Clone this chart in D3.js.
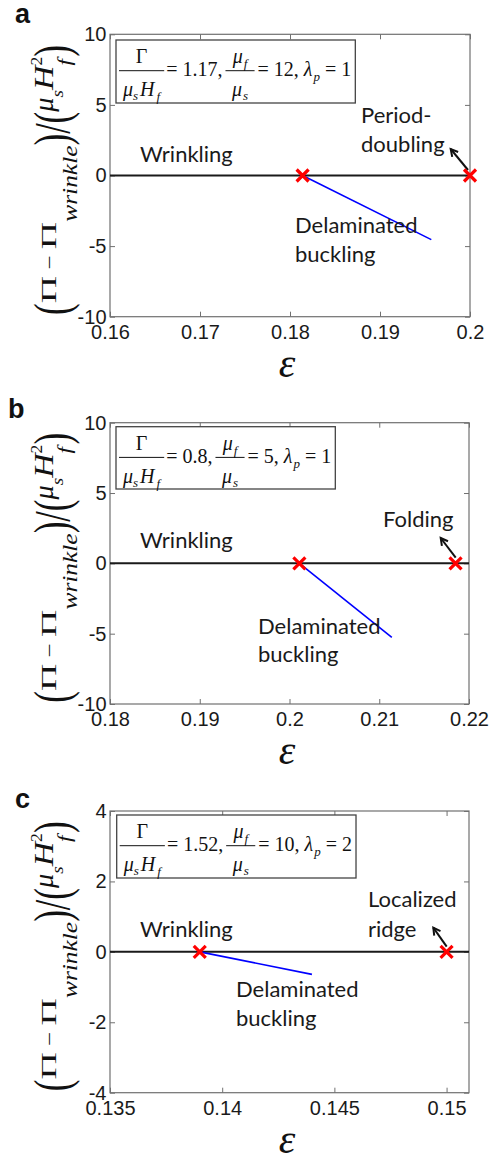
<!DOCTYPE html>
<html>
<head>
<meta charset="utf-8">
<script src="https://cdn.jsdelivr.net/npm/d3@7"></script>
<style>
  html, body { margin: 0; padding: 0; background: #fff; }
  svg { display: block; }
  text { white-space: pre; }
</style>
</head>
<body>
<svg id="chart" width="494" height="1161"></svg>
<script>
// ---------------- DATA ----------------
// Panel a
const xDomainA = [0.16, 0.20];
const yDomainA = [-10, 10];
const xTicksA = [0.16, 0.17, 0.18, 0.19, 0.2];
const yTicksA = [-10, -5, 0, 5, 10];
const transitionsA = [0.1814, 0.2];
const delaminatedA = [[0.1814, 0], [0.1957, -4.54]];
const paramsA = { gamma: "1.17", mu: "12", lam: "1" };

// Panel b
const xDomainB = [0.18, 0.22];
const yDomainB = [-10, 10];
const xTicksB = [0.18, 0.19, 0.2, 0.21, 0.22];
const yTicksB = [-10, -5, 0, 5, 10];
const transitionsB = [0.2011, 0.2185];
const delaminatedB = [[0.2011, 0], [0.2114, -5.26]];
const paramsB = { gamma: "0.8", mu: "5", lam: "1" };

// Panel c
const xDomainC = [0.135, 0.151];
const yDomainC = [-4, 4];
const xTicksC = [0.135, 0.14, 0.145, 0.15];
const yTicksC = [-4, -2, 0, 2, 4];
const transitionsC = [0.139, 0.150];
const delaminatedC = [[0.139, 0], [0.1440, -0.64]];
const paramsC = { gamma: "1.52", mu: "10", lam: "2" };

// ---------------- LAYOUT ----------------
const panels = [
  { letter: "a", lx: 15, ly: 23.3,
    left: 110, top: 34.3, width: 360, height: 282.4,
    xDomain: xDomainA, yDomain: yDomainA, xTicks: xTicksA, yTicks: yTicksA,
    trans: transitionsA, delam: delaminatedA, params: paramsA,
    legend: [6, 5.7, 63],
    labels: [["Wrinkling", 30, 127.4], ["Period-", 251, 89], ["doubling", 251, 117.4],
             ["Delaminated", 185, 199], ["buckling", 185, 227.4]],
    arrow: [358, 135.7, 340.7, 114.7] },
  { letter: "b", lx: 8, ly: 417.7,
    left: 110, top: 422.7, width: 359, height: 281.3,
    xDomain: xDomainB, yDomain: yDomainB, xTicks: xTicksB, yTicks: yTicksB,
    trans: transitionsB, delam: delaminatedB, params: paramsB,
    legend: [6, 4, 62.3],
    labels: [["Wrinkling", 30, 125.6], ["Folding", 273, 104],
             ["Delaminated", 148, 211], ["buckling", 148, 239]],
    arrow: [345.7, 135, 330.7, 115.3] },
  { letter: "c", lx: 15, ly: 807.7,
    left: 110, top: 811, width: 359, height: 281.7,
    xDomain: xDomainC, yDomain: yDomainC, xTicks: xTicksC, yTicks: yTicksC,
    trans: transitionsC, delam: delaminatedC, params: paramsC,
    legend: [6.7, 4, 63],
    labels: [["Wrinkling", 30, 125.7], ["Localized", 258, 96], ["ridge", 258, 125.7],
             ["Delaminated", 126, 185.7], ["buckling", 126, 215]],
    arrow: [336.7, 135.7, 323.3, 116.7] }
];

const svg = d3.select("#chart");
const SERIF = '"Liberation Serif", "Times New Roman", serif';
const SANS = '"Liberation Sans", Arial, sans-serif';
const LABEL = 'Lato, "Open Sans", sans-serif';
const FRAME = "#707070";

function mathParams(g, bx, by, h, vals) {
  const fs = 20, sfs = 13;
  const box = g.append("rect").attr("x", bx).attr("y", by).attr("height", h)
    .attr("fill", "#fff").attr("stroke", "#444").attr("stroke-width", 1.3);
  const tg = g.append("g").attr("font-family", SERIF).attr("fill", "#111").attr("font-size", fs);
  const lineY = by + 30.7, numY = by + 23.3, denY = by + 56, mainY = by + 36;
  let cx = bx + 3;

  // fraction 1: Gamma / (mu_s H_f)
  const n1 = tg.append("text").attr("y", numY).attr("text-anchor", "middle").text("Γ");
  const d1 = tg.append("text").attr("y", denY).attr("text-anchor", "middle");
  d1.append("tspan").attr("font-style", "italic").text("μ");
  d1.append("tspan").attr("font-style", "italic").attr("font-size", sfs).attr("dy", 4).text("s");
  d1.append("tspan").attr("font-style", "italic").attr("dy", -4).attr("dx", 2).text("H");
  d1.append("tspan").attr("font-style", "italic").attr("font-size", sfs).attr("dy", 5).attr("dx", 2).text("f");
  const w1 = d1.node().getComputedTextLength() + 12;
  n1.attr("x", cx + w1 / 2); d1.attr("x", cx + w1 / 2);
  tg.append("line").attr("x1", cx).attr("x2", cx + w1).attr("y1", lineY).attr("y2", lineY)
    .attr("stroke", "#111").attr("stroke-width", 1);
  cx += w1 + 2;

  const t1 = tg.append("text").attr("x", cx).attr("y", mainY).text("= " + vals.gamma + ",");
  cx += t1.node().getComputedTextLength() + 3;

  // fraction 2: mu_f / mu_s
  const n2 = tg.append("text").attr("y", numY).attr("text-anchor", "middle");
  n2.append("tspan").attr("font-style", "italic").text("μ");
  n2.append("tspan").attr("font-style", "italic").attr("font-size", sfs).attr("dy", 5).attr("dx", 1).text("f");
  const d2 = tg.append("text").attr("y", denY).attr("text-anchor", "middle");
  d2.append("tspan").attr("font-style", "italic").text("μ");
  d2.append("tspan").attr("font-style", "italic").attr("font-size", sfs).attr("dy", 4).attr("dx", 1).text("s");
  const w2 = Math.max(n2.node().getComputedTextLength(), d2.node().getComputedTextLength()) + 14;
  n2.attr("x", cx + w2 / 2); d2.attr("x", cx + w2 / 2);
  tg.append("line").attr("x1", cx).attr("x2", cx + w2).attr("y1", lineY).attr("y2", lineY)
    .attr("stroke", "#111").attr("stroke-width", 1);
  cx += w2 + 3;

  const t2 = tg.append("text").attr("x", cx).attr("y", mainY);
  t2.append("tspan").text("= " + vals.mu + ", ");
  t2.append("tspan").attr("font-style", "italic").text("λ");
  t2.append("tspan").attr("font-style", "italic").attr("font-size", sfs).attr("dy", 5).attr("dx", 1).text("p");
  t2.append("tspan").attr("dy", -5).text(" = " + vals.lam);
  cx += t2.node().getComputedTextLength() + 5;

  box.attr("width", cx - bx);
}

// Y-axis label laid out piece by piece along a rotated baseline
function yAxisLabel(g, baseX, centerY) {
  // text, fontSize, scale along, scale across, shift below baseline, italic, overlaps previous
  const P = (t, fs, sx, sy, sh, it, ov) => ({ t, fs, sx, sy, sh, it, ov });
  const paren = c => P(c, 44, 0.8, 1.15, 13, false);
  const pieces = [
    paren("("), P("Π", 20, 1.9, 1, 0, false), P("\u00A0−\u00A0", 20, 1.25, 1, 0, false),
    P("Π", 20, 1.9, 1, 0, false), P("wrinkle", 20, 1.27, 1, 21, true), paren(")"),
    P("/", 44, 0.85, 1.15, 13, false), paren("("),
    P("μ", 27, 1.05, 1, -3, true), P("s", 16, 1.2, 1, 7, true), P("H", 27, 1.25, 1, -3, true),
    P("f", 18, 1.3, 1, 15, true), P("2", 16, 1.1, 1, -14, false, true), paren(")")
  ];
  const rg = g.append("g");
  let cur = 0, lastStart = 0;
  pieces.forEach(p => {
    const start = p.ov ? lastStart : cur;
    const t = rg.append("text").attr("font-family", SERIF).attr("font-size", p.fs)
      .attr("fill", "#111").text(p.t);
    if (p.it) t.attr("font-style", "italic");
    const w = t.node().getComputedTextLength() * p.sx;
    t.attr("transform", `translate(${start},${p.sh}) scale(${p.sx},${p.sy})`);
    if (p.ov) { cur = Math.max(cur, start + w); }
    else { cur = start + w; lastStart = start; }
  });
  rg.attr("transform", `translate(${baseX},${centerY}) rotate(-90) translate(${-cur / 2},0)`);
}

panels.forEach(p => {
  const g = svg.append("g");
  const x = d3.scaleLinear().domain(p.xDomain).range([p.left, p.left + p.width]);
  const y = d3.scaleLinear().domain(p.yDomain).range([p.top + p.height, p.top]);
  const bottom = p.top + p.height, right = p.left + p.width;

  // axes (MATLAB style, inward ticks on all sides)
  const styleAxis = sel => {
    sel.select(".domain").remove();
    sel.selectAll(".tick line").attr("stroke", FRAME).attr("stroke-width", 1);
    sel.selectAll(".tick text").attr("font-family", SANS).attr("font-size", 20).attr("fill", "#1a1a1a");
  };
  g.append("g").attr("transform", `translate(0,${bottom})`)
    .call(d3.axisBottom(x).tickValues(p.xTicks).tickSize(-5).tickPadding(8).tickFormat(d => String(d)))
    .call(styleAxis);
  g.append("g").attr("transform", `translate(0,${p.top})`)
    .call(d3.axisTop(x).tickValues(p.xTicks).tickSize(-5).tickFormat(""))
    .call(styleAxis);
  g.append("g").attr("transform", `translate(${p.left},0)`)
    .call(d3.axisLeft(y).tickValues(p.yTicks).tickSize(-5).tickPadding(3.5).tickFormat(d => String(d)))
    .call(styleAxis);
  g.append("g").attr("transform", `translate(${right},0)`)
    .call(d3.axisRight(y).tickValues(p.yTicks).tickSize(-5).tickFormat(""))
    .call(styleAxis);

  g.append("rect").attr("x", p.left).attr("y", p.top).attr("width", p.width).attr("height", p.height)
    .attr("fill", "none").attr("stroke", FRAME).attr("stroke-width", 1.2);

  // wrinkling branch (zero line)
  g.append("line").attr("x1", x(p.xDomain[0])).attr("x2", right)
    .attr("y1", y(0)).attr("y2", y(0)).attr("stroke", "#1a1a1a").attr("stroke-width", 2);

  // delaminated buckling branch
  g.append("path").datum(p.delam)
    .attr("d", d3.line().x(d => x(d[0])).y(d => y(d[1])))
    .attr("fill", "none").attr("stroke", "#0000ff").attr("stroke-width", 1.6);

  // legend box
  mathParams(g, p.left + p.legend[0], p.top + p.legend[1], p.legend[2], p.params);

  // text labels
  p.labels.forEach(([s, lx, ly]) => {
    g.append("text").attr("x", p.left + lx).attr("y", p.top + ly)
      .attr("font-family", LABEL).attr("font-size", 22).attr("fill", "#1a1a1a").text(s);
  });

  // arrow
  const [ax1, ay1, ax2, ay2] = p.arrow.map((v, i) => v + (i % 2 === 0 ? p.left : p.top));
  g.append("line").attr("x1", ax1).attr("y1", ay1).attr("x2", ax2).attr("y2", ay2)
    .attr("stroke", "#111").attr("stroke-width", 2);
  const ang = Math.atan2(ay2 - ay1, ax2 - ax1);
  const hl = 8, ha = 0.5;
  g.append("path")
    .attr("d", `M${ax2 - hl * Math.cos(ang - ha)},${ay2 - hl * Math.sin(ang - ha)} L${ax2},${ay2} L${ax2 - hl * Math.cos(ang + ha)},${ay2 - hl * Math.sin(ang + ha)}`)
    .attr("fill", "none").attr("stroke", "#111").attr("stroke-width", 2);

  // transition markers (red x)
  const s = 6;
  g.selectAll(".mk").data(p.trans).join("path")
    .attr("d", d => `M${x(d) - s},${y(0) - s}L${x(d) + s},${y(0) + s}M${x(d) - s},${y(0) + s}L${x(d) + s},${y(0) - s}`)
    .attr("stroke", "#ff0000").attr("stroke-width", 3.2).attr("fill", "none");

  // panel letter
  g.append("text").attr("x", p.lx).attr("y", p.ly)
    .attr("font-family", SANS).attr("font-weight", "bold").attr("font-size", 27).attr("fill", "#111")
    .text(p.letter);

  // axis labels
  yAxisLabel(g, 56, p.top + p.height / 2 + 4.5);
  g.append("text").attr("x", p.left + 177).attr("y", bottom + 60)
    .attr("text-anchor", "middle").attr("font-family", SERIF).attr("font-style", "italic")
    .attr("font-size", 42).attr("fill", "#111").text("ε");
});
</script>
</body>
</html>
